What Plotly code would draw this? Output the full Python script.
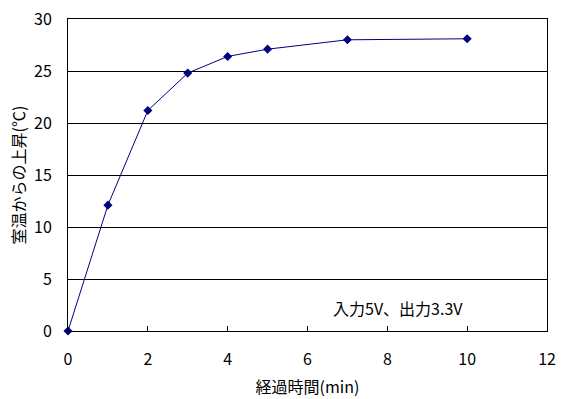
import plotly.graph_objects as go

minutes = [0, 1, 2, 3, 4, 5, 7, 10]
rise = [0, 12.1, 21.2, 24.8, 26.4, 27.1, 28.0, 28.1]
x_ticks = [0, 2, 4, 6, 8, 10, 12]
y_ticks = [0, 5, 10, 15, 20, 25, 30]
note = "入力5V、出力3.3V"

font = "Noto Sans CJK JP"

fig = go.Figure()
fig.add_trace(go.Scatter(
    x=minutes, y=rise, mode="lines+markers",
    line=dict(color="#000080", width=1),
    marker=dict(symbol="diamond", size=7, color="#000080"),
    showlegend=False, cliponaxis=False,
))

fig.update_layout(
    width=567, height=399,
    margin=dict(l=68, r=20, t=19, b=68),
    paper_bgcolor="white", plot_bgcolor="white",
    font=dict(family=font, color="black", size=15),
    xaxis=dict(
        range=[0, 12], tickvals=x_ticks, ticks="inside", ticklen=5,
        tickcolor="black", showgrid=False, zeroline=False,
        showline=True, linecolor="black", linewidth=1, mirror=True,
        tickfont=dict(size=16), ticklabelstandoff=14, automargin=False,
        ticklabeloverflow="allow",
        title=dict(text="経過時間(min)", font=dict(size=16), standoff=12),
    ),
    yaxis=dict(
        range=[0, 30], tickvals=y_ticks, ticks="inside", ticklen=5,
        tickcolor="black", showgrid=True, gridcolor="black", gridwidth=1,
        zeroline=False, showline=True, linecolor="black", linewidth=1,
        mirror=True, tickfont=dict(size=16), ticklabelstandoff=12,
        automargin=False, ticklabeloverflow="allow",
        title=dict(text="室温からの上昇(℃)", font=dict(size=16), standoff=4),
    ),
    annotations=[dict(
        text=note, x=0.829, y=2.2, xref="paper", yref="y",
        xanchor="right", yanchor="middle", showarrow=False,
        font=dict(size=16, family=font),
    )],
)

fig.write_html(
    "out.html",
    config={"displayModeBar": False, "staticPlot": True},
    post_script="document.body.style.margin='0';document.body.style.overflow='hidden';",
)
